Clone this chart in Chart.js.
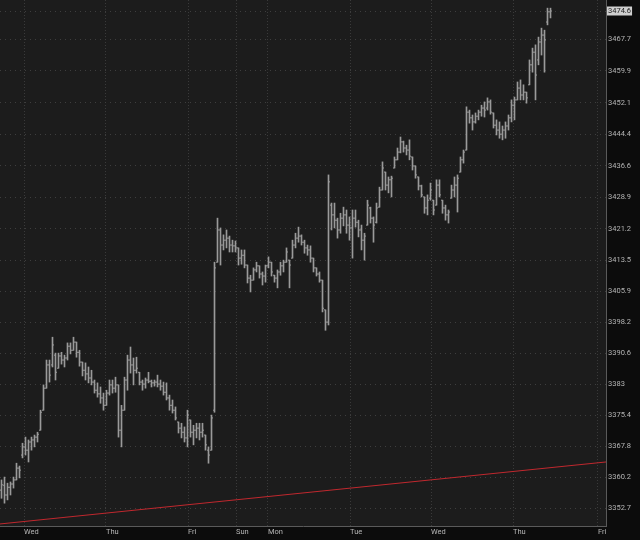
<!DOCTYPE html>
<html><head><meta charset="utf-8">
<script src="https://cdn.jsdelivr.net/npm/chart.js@4"></script>
<style>html,body{margin:0;padding:0;background:#0c0c0c;overflow:hidden}#wrap{width:640px;height:540px}</style>
</head><body><div id="wrap"><canvas id="c" width="640" height="540"></canvas></div>
<script>
const highs = [3359.6,3360.3,3358.8,3359.1,3360.3,3363.7,3363.0,3368.6,3370.1,3369.4,3370.1,3370.6,3371.3,3376.7,3382.9,3389.0,3389.0,3394.6,3390.7,3390.7,
3390.9,3390.2,3393.2,3393.2,3394.6,3393.4,3391.4,3388.5,3388.3,3387.3,3386.5,3384.1,3383.4,3382.4,3380.9,3381.6,3384.1,3384.1,3384.8,3382.9,
3377.9,3384.8,3390.2,3392.2,3389.5,3389.7,3386.0,3384.1,3384.6,3386.0,3384.1,3384.1,3385.3,3384.1,3383.6,3383.4,3380.4,3379.2,3377.5,3373.8,
3373.5,3372.6,3376.7,3374.3,3373.0,3373.5,3373.5,3373.5,3370.6,3367.7,3375.5,3413.0,3423.8,3421.4,3419.7,3420.9,3419.4,3418.4,3418.2,3416.5,
3416.0,3416.0,3412.3,3409.8,3411.6,3413.0,3412.1,3410.6,3412.3,3414.3,3413.0,3409.8,3411.1,3413.0,3413.5,3416.5,3413.5,3418.4,3420.1,3421.6,
3419.7,3418.4,3417.2,3417.0,3414.0,3411.6,3410.6,3408.6,3401.3,3434.4,3427.5,3427.5,3423.8,3425.0,3426.5,3425.8,3424.1,3425.8,3425.8,3423.3,
3422.1,3420.1,3428.2,3426.5,3424.1,3427.5,3431.4,3437.6,3435.1,3433.9,3434.1,3438.8,3441.0,3443.7,3442.7,3441.7,3443.0,3438.8,3436.6,3433.9,
3431.9,3429.0,3429.5,3432.4,3428.2,3433.2,3433.2,3428.2,3427.0,3425.8,3431.9,3433.9,3434.4,3438.8,3440.5,3451.1,3450.3,3449.1,3449.6,3450.3,
3451.5,3452.3,3453.3,3452.8,3449.6,3447.9,3447.4,3446.4,3447.4,3449.1,3452.8,3453.5,3457.2,3457.7,3456.5,3454.7,3462.6,3465.5,3466.3,3468.2,
3470.4,3469.9,3475.3,3475.3];
const lows = [3355.1,3353.9,3354.7,3355.9,3357.6,3359.6,3360.1,3365.0,3365.7,3364.0,3366.9,3367.7,3368.9,3371.8,3376.7,3382.1,3383.6,3387.3,3384.1,3387.0,
3388.0,3387.3,3389.0,3390.5,3391.4,3389.7,3387.5,3385.1,3384.1,3383.4,3382.9,3380.9,3379.9,3378.4,3376.7,3377.9,3380.4,3380.9,3381.1,3370.1,
3367.7,3376.7,3381.6,3385.8,3382.9,3385.8,3382.9,3381.6,3382.1,3383.4,3382.4,3382.6,3382.4,3381.6,3380.4,3379.2,3376.7,3376.0,3374.3,3371.1,
3369.9,3368.9,3367.7,3370.1,3368.2,3369.9,3369.4,3370.1,3366.9,3363.7,3366.9,3376.2,3413.0,3412.3,3416.0,3416.5,3415.5,3415.5,3415.5,3412.3,
3412.5,3411.6,3407.9,3405.7,3408.6,3410.6,3409.1,3407.4,3408.1,3411.6,3409.6,3408.1,3406.7,3409.8,3410.6,3413.0,3406.7,3414.0,3416.5,3417.9,
3417.2,3415.2,3414.7,3413.0,3410.6,3409.6,3408.1,3400.8,3396.3,3397.6,3420.9,3421.4,3418.9,3420.1,3421.9,3420.1,3418.4,3414.0,3421.6,3419.2,
3416.0,3413.5,3422.1,3422.6,3417.9,3422.6,3426.5,3430.7,3430.7,3430.0,3429.0,3436.1,3438.1,3439.8,3440.0,3439.3,3438.1,3435.6,3433.6,3430.7,
3429.0,3425.0,3424.6,3428.2,3424.6,3427.0,3429.0,3425.0,3423.3,3422.6,3428.7,3429.0,3425.3,3435.1,3437.3,3440.5,3447.1,3445.4,3447.1,3447.9,
3448.8,3448.6,3450.3,3449.3,3445.9,3444.2,3443.4,3443.0,3443.4,3445.4,3447.4,3447.9,3452.8,3452.8,3452.8,3452.0,3456.5,3459.6,3452.8,3461.4,
3463.8,3459.6,3471.2,3472.9];
const opens = [3357.1,3358.3,3355.9,3357.8,3358.6,3359.6,3362.5,3365.7,3367.7,3366.9,3368.9,3369.4,3370.1,3371.8,3376.7,3382.1,3387.8,3387.8,3390.2,3387.0,
3390.0,3389.0,3389.5,3392.4,3391.4,3393.4,3390.9,3388.5,3386.5,3385.6,3384.6,3383.6,3381.6,3380.7,3379.7,3377.9,3380.9,3382.9,3382.1,3382.9,
3371.8,3376.7,3384.1,3389.0,3387.8,3386.5,3386.0,3383.6,3383.1,3384.1,3383.8,3383.4,3383.6,3383.1,3382.6,3381.1,3379.7,3377.9,3376.7,3373.8,
3372.3,3371.3,3369.9,3374.3,3371.3,3371.8,3372.3,3371.3,3370.6,3366.9,3366.9,3376.7,3413.0,3420.9,3417.2,3418.4,3418.9,3417.2,3417.0,3416.5,
3414.0,3414.7,3412.3,3409.1,3408.6,3411.1,3412.1,3410.1,3409.6,3412.1,3413.0,3409.8,3409.1,3410.6,3412.1,3413.0,3413.5,3414.0,3417.2,3418.9,
3419.4,3417.9,3416.5,3416.0,3414.0,3411.6,3410.1,3408.6,3401.3,3398.3,3427.0,3424.6,3423.3,3420.9,3423.8,3424.6,3422.1,3421.4,3423.8,3422.8,
3420.9,3418.4,3422.1,3426.3,3423.8,3422.8,3426.5,3430.7,3435.1,3431.9,3433.2,3436.1,3438.1,3440.0,3442.5,3441.0,3440.5,3438.8,3436.6,3433.9,
3431.7,3429.0,3426.3,3428.7,3428.2,3427.0,3431.9,3428.2,3426.3,3424.6,3428.7,3430.7,3431.9,3435.1,3438.1,3440.5,3449.8,3448.4,3447.4,3448.8,
3449.8,3450.8,3450.8,3452.3,3449.6,3446.6,3445.4,3444.4,3445.4,3446.4,3448.4,3451.5,3452.8,3455.7,3454.0,3454.7,3456.5,3461.4,3464.5,3462.6,
3467.0,3468.7,3471.9,3474.4];
const closes = [3358.4,3355.9,3357.8,3358.6,3359.6,3362.5,3362.0,3367.7,3366.9,3368.9,3369.4,3370.1,3370.8,3376.2,3382.1,3387.8,3385.3,3392.7,3386.0,3390.0,
3389.0,3389.5,3392.4,3391.4,3393.4,3390.9,3388.5,3386.5,3385.6,3384.6,3383.6,3381.6,3380.7,3379.7,3377.9,3380.9,3382.9,3382.1,3382.9,3371.8,
3376.7,3384.1,3389.0,3387.8,3386.5,3387.0,3383.6,3383.1,3384.1,3383.8,3383.4,3383.6,3383.1,3382.6,3381.1,3379.7,3377.9,3376.7,3374.8,3372.3,
3371.3,3369.9,3375.5,3371.3,3371.8,3372.3,3371.3,3371.8,3368.2,3365.7,3374.8,3411.6,3420.9,3417.2,3418.4,3418.9,3417.2,3417.0,3416.5,3414.0,
3414.7,3412.3,3409.1,3408.6,3411.1,3412.1,3410.1,3409.6,3412.1,3413.0,3410.6,3409.1,3410.6,3412.1,3413.0,3415.5,3412.3,3417.2,3418.9,3419.4,
3417.9,3416.5,3416.0,3414.0,3411.6,3410.1,3408.6,3401.7,3398.3,3432.7,3424.6,3423.3,3420.9,3423.8,3424.6,3422.1,3421.4,3423.8,3422.8,3420.9,
3418.4,3419.4,3427.0,3423.8,3422.1,3426.3,3430.7,3436.1,3431.9,3433.2,3433.6,3438.1,3440.0,3442.5,3441.0,3440.5,3439.0,3436.6,3434.4,3431.7,
3429.5,3426.3,3428.2,3430.7,3425.8,3431.9,3429.5,3426.3,3424.6,3425.3,3430.7,3431.9,3433.6,3438.1,3440.0,3449.8,3448.4,3447.4,3448.8,3449.8,
3450.8,3450.3,3452.3,3449.8,3446.6,3445.4,3444.4,3445.4,3446.4,3448.4,3451.5,3452.8,3455.7,3454.0,3454.7,3453.3,3461.4,3464.5,3458.9,3467.0,
3468.7,3467.5,3474.4,3474.6];
const yTickValues = [3352.7,3360.2,3367.8,3375.4,3383,3390.6,3398.2,3405.9,3413.5,3421.2,3428.9,3436.6,3444.4,3452.1,3459.9,3467.7,3474.6];
const yTickLabels = ['3352.7','3360.2','3367.8','3375.4','3383','3390.6','3398.2','3405.9','3413.5','3421.2','3428.9','3436.6','3444.4','3452.1','3459.9','3467.7','3474.6'];
const dayNames = ['Wed','Thu','Fri','Sun','Mon','Tue','Wed','Thu','Fri'];
const dayStartIndex = [7.5,34.83,62.17,78.17,88.83,116.17,143.17,170.5,198.83];
const trendLine = [3348.8, 3364.0];
const lastPrice = 3474.6;

const X_MIN = -0.5, X_MAX = 201.5;
const BAR = '#9a9a9a';

const bgPlugin = {
  id: 'bg',
  beforeDraw(c) {
    const {ctx, chartArea: a} = c;
    ctx.save();
    ctx.fillStyle = '#0c0c0c';
    ctx.fillRect(0, 0, c.width, c.height);
    ctx.fillStyle = '#1c1c1c';
    ctx.fillRect(a.left, a.top, a.right - a.left, a.bottom - a.top);
    ctx.restore();
  }
};

new Chart(document.getElementById('c'), {
  type: 'bar',
  data: {
    datasets: [
      {
        type: 'bar',
        data: highs.map((h, i) => ({x: i, y: [lows[i], h]})),
        backgroundColor: BAR,
        borderWidth: 0,
        barThickness: 1,
        grouped: false,
        order: 2
      },
      {
        type: 'line',
        data: opens.map((o, i) => ({x: i, y: o})),
        showLine: false,
        pointStyle: 'dash',
        pointRotation: 180,
        pointRadius: 1.5,
        pointHoverRadius: 1.5,
        pointBorderWidth: 1,
        pointBorderColor: BAR,
        pointBackgroundColor: BAR,
        order: 1
      },
      {
        type: 'line',
        data: closes.map((c, i) => ({x: i, y: c})),
        showLine: false,
        pointStyle: 'dash',
        pointRotation: 0,
        pointRadius: 1.5,
        pointHoverRadius: 1.5,
        pointBorderWidth: 1,
        pointBorderColor: BAR,
        pointBackgroundColor: BAR,
        order: 1
      },
      {
        type: 'line',
        data: [{x: X_MIN, y: trendLine[0]}, {x: X_MAX, y: trendLine[1]}],
        borderColor: '#c0282e',
        borderWidth: 1,
        pointRadius: 0,
        pointHoverRadius: 0,
        order: 0
      }
    ]
  },
  options: {
    responsive: false,
    animation: false,
    devicePixelRatio: 1,
    events: [],
    layout: {padding: 0, autoPadding: false},
    plugins: {legend: {display: false}, tooltip: {enabled: false}},
    scales: {
      x: {
        type: 'linear',
        min: X_MIN,
        max: X_MAX,
        offset: false,
        afterFit(s) { s.height = 14; s.paddingLeft = 0; s.paddingRight = 0; s.paddingTop = 0; s.paddingBottom = 0; },
        afterBuildTicks(s) { s.ticks = dayStartIndex.map(v => ({value: v})); },
        grid: {color: '#3a3a3a', drawTicks: false, offset: false, lineWidth: 1},
        border: {display: true, color: '#5a5a5a', dash: [1, 2]},
        ticks: {
          autoSkip: false, maxRotation: 0, minRotation: 0, align: 'start', padding: 2,
          color: '#b5b5b5', font: {family: 'Roboto', size: 7.5},
          callback: (v, i) => dayNames[i]
        }
      },
      y: {
        type: 'linear',
        position: 'right',
        min: 3348.3,
        max: 3477.3,
        afterFit(s) { s.width = 34; s.paddingLeft = 0; s.paddingRight = 0; s.paddingTop = 0; s.paddingBottom = 0; },
        afterBuildTicks(s) { s.ticks = yTickValues.map(v => ({value: v})); },
        grid: {color: '#3e3e3e', drawTicks: false, lineWidth: 1},
        border: {display: true, color: '#5a5a5a', dash: [1, 4]},
        ticks: {
          autoSkip: false, padding: 2,
          font: {family: 'Roboto', size: 7.5},
          color: ctx => (ctx.tick && ctx.tick.value === lastPrice) ? '#222222' : '#b5b5b5',
          showLabelBackdrop: ctx => !!(ctx.tick && ctx.tick.value === lastPrice),
          backdropColor: '#cfcfcf',
          backdropPadding: {left: 1, right: 1, top: 0, bottom: 0},
          callback: (v, i) => yTickLabels[i]
        }
      }
    }
  },
  plugins: [bgPlugin]
});
</script>
</body></html>
